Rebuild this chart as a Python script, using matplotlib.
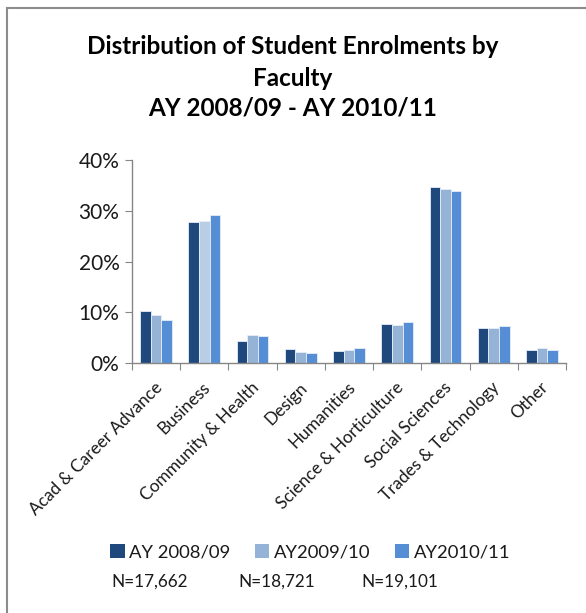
import matplotlib
matplotlib.use("Agg")
import matplotlib.pyplot as plt
import matplotlib.transforms as mtransforms
import numpy as np
from matplotlib.patches import Rectangle, Patch

categories = ["Acad & Career Advance", "Business", "Community & Health", "Design",
              "Humanities", "Science & Horticulture", "Social Sciences",
              "Trades & Technology", "Other"]
series_names = ["AY 2008/09", "AY2009/10", "AY2010/11"]
series_n = ["N=17,662", "N=18,721", "N=19,101"]
ay0809 = [10.2, 27.7, 4.3, 2.7, 2.4, 7.7, 34.7, 6.9, 2.6]
ay0910 = [9.4, 27.9, 5.5, 2.2, 2.6, 7.4, 34.3, 6.9, 3.0]
ay1011 = [8.4, 29.2, 5.3, 1.9, 2.9, 8.1, 33.8, 7.2, 2.5]
yticks = [0, 10, 20, 30, 40]

colors = ["#1f497d", "#95b3d7", "#558ed5"]
FONT = ["Lato", "DejaVu Sans"]
plt.rcParams["font.family"] = FONT

W, H = 586, 613
fig = plt.figure(figsize=(W / 100, H / 100), dpi=100)

def fx(x):
    return x / W

def fy(y):
    return 1 - y / H

ax = fig.add_axes([fx(132), fy(363), fx(566) - fx(132), fy(160) - fy(363)])

x = np.arange(len(categories))
bw = 0.22
for i, vals in enumerate([ay0809, ay0910, ay1011]):
    cols = [colors[i]] * len(vals)
    if i == 1:
        cols[1] = "#b9cde5"
    ax.bar(x + (i - 1) * bw, vals, width=bw, color=cols,
           edgecolor="#e6eef8", linewidth=0.6, zorder=2)

ax.set_xlim(-0.5, len(categories) - 0.5)
ax.set_ylim(0, 40)
ax.set_yticks(yticks)
ax.set_yticklabels([f"{v}%" for v in yticks], fontsize=15, color="#1a1a1a")
ax.set_xticks(np.arange(len(categories) + 1) - 0.5)
ax.set_xticklabels([])
ax.set_xticks(x, minor=True)
ax.set_xticklabels(categories, minor=True, rotation=45, ha="right",
                   rotation_mode="anchor", fontsize=12.4, color="#1a1a1a")
ax.tick_params(axis="x", which="minor", length=0, pad=8)
ax.tick_params(axis="x", which="major", length=5, color="#868686", direction="out")
ax.tick_params(axis="y", length=5, color="#868686", direction="out", pad=4)
offset = mtransforms.ScaledTranslation(-2 / 100, -5 / 100, fig.dpi_scale_trans)
for lab in ax.get_xticklabels(minor=True):
    lab.set_transform(lab.get_transform() + offset)
for s in ["top", "right"]:
    ax.spines[s].set_visible(False)
for s in ["left", "bottom"]:
    ax.spines[s].set_color("#868686")
    ax.spines[s].set_linewidth(1.0)

# title
title_kw = dict(ha="center", va="center", fontsize=17.5, fontweight="bold",
                color="#000000")
fig.text(fx(293), fy(47), "Distribution of Student Enrolments by", **title_kw)
fig.text(fx(293), fy(78), "Faculty", **title_kw)
fig.text(fx(293), fy(108), "AY 2008/09 - AY 2010/11", **title_kw)

# legend
handles = [Patch(facecolor=c, edgecolor="none") for c in colors]
leg = fig.legend(handles, series_names, loc="center left",
                 bbox_to_anchor=(fx(110), fy(552)), ncol=3, frameon=False,
                 fontsize=13.3, handlelength=0.8, handleheight=0.8,
                 handletextpad=0.25, columnspacing=1.3, borderpad=0,
                 borderaxespad=0)
for t in leg.get_texts():
    t.set_color("#1a1a1a")
n_x = [150, 277, 400]
for xx, t in zip(n_x, series_n):
    fig.text(fx(xx), fy(582), t, ha="center", va="center", fontsize=12.3,
             color="#1a1a1a")

# chart frame
fig.patches.append(Rectangle((fx(7), fy(640)), fx(590) - fx(7), fy(8) - fy(640),
                             transform=fig.transFigure, fill=False,
                             edgecolor="#8c8c8c", linewidth=1.5, clip_on=False))
# caption fragment above frame
fig.text(fx(3), fy(-8), "g", ha="left", va="baseline", fontsize=12,
         color="#2e74b5")

fig.savefig("out.png", dpi=100)
